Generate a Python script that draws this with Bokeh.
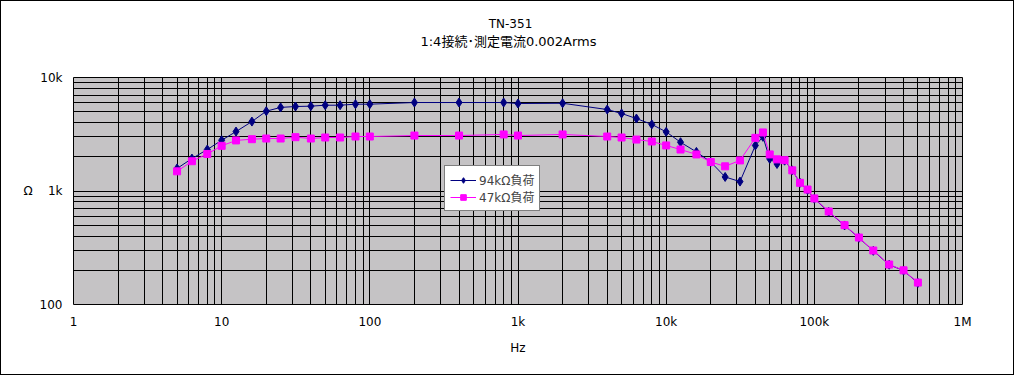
from bokeh.plotting import figure
from bokeh.models import Range1d, FixedTicker, Legend, LegendItem, Label
from bokeh.embed import file_html
from bokeh.resources import INLINE

# ---- data ----
freqs = [5, 6.3, 8, 10, 12.5, 16, 20, 25, 31.5, 40, 50, 63, 80, 100,
         200, 400, 800, 1000, 2000, 4000, 5000, 6300, 8000,
         10000, 12500, 16000, 20000, 25000, 31500, 40000, 45000, 50000,
         56000, 63000, 71000, 80000, 90000, 100000, 125000, 160000,
         200000, 250000, 320000, 400000, 500000]
ohm_94k = [1580, 1930, 2320, 2800, 3340, 4090, 5050, 5450, 5550, 5590, 5700, 5700, 5820, 5820,
           6020, 6020, 6020, 5900, 5930, 5220, 4820, 4350, 3860,
           3320, 2690, 2210, 1800, 1330, 1210, 2520, 3000, 1920,
           1730, 1850, 1520, 1180, 1020, 855, 655, 497,
           387, 297, 224, 199, 155]
ohm_47k = [1490, 1830, 2120, 2500, 2790, 2860, 2900, 2900, 2980, 2900, 2960, 2960, 3020, 3020,
           3080, 3080, 3150, 3080, 3150, 3020, 2960, 2840, 2730,
           2520, 2320, 2100, 1800, 1650, 1860, 2940, 3280, 2100,
           1900, 1870, 1520, 1180, 1030, 860, 660, 500,
           389, 299, 225, 200, 156]
series_names = ["94kΩ負荷", "47kΩ負荷"]
x_ticks = [1, 10, 100, 1000, 10000, 100000, 1000000]
x_tick_labels = ["1", "10", "100", "1k", "10k", "100k", "1M"]
y_ticks = [100, 1000, 10000]
y_tick_labels = ["100", "1k", "10k"]
title_lines = ["TN-351", "1:4接続･測定電流0.002Arms"]
x_label = "Hz"
y_label = "Ω"

FONT = "DejaVu Sans, Noto Sans CJK JP"
BG = "#c5c3c5"

p = figure(width=1014, height=375, x_axis_type="log", y_axis_type="log",
           x_range=Range1d(1, 1e6), y_range=Range1d(100, 1e4),
           output_backend="svg", toolbar_location=None, title=None,
           min_border_left=72, min_border_right=53, min_border_top=76, min_border_bottom=72,
           background_fill_color=BG, border_fill_color="white",
           outline_line_color="black", outline_line_width=1)
p.styles = {"border": "1px solid black"}

x_minor = [m * 10 ** d for d in range(0, 6) for m in range(2, 10)]
y_minor = [m * 10 ** d for d in range(2, 4) for m in range(2, 10)]
p.xaxis.ticker = FixedTicker(ticks=x_ticks, minor_ticks=x_minor)
p.yaxis.ticker = FixedTicker(ticks=y_ticks, minor_ticks=y_minor)
p.xaxis.major_label_overrides = {float(t): l for t, l in zip(x_ticks, x_tick_labels)}
p.yaxis.major_label_overrides = {float(t): l for t, l in zip(y_ticks, y_tick_labels)}

for ax in (p.xaxis, p.yaxis):
    ax.axis_line_color = None
    ax.major_tick_line_color = None
    ax.minor_tick_line_color = None
    ax.major_tick_out = 0
    ax.major_tick_in = 0
    ax.minor_tick_out = 0
    ax.minor_tick_in = 0
    ax.major_label_text_font = FONT
    ax.major_label_text_font_size = "12px"
    ax.major_label_text_color = "black"
    ax.axis_label_text_font = FONT
    ax.axis_label_text_font_size = "12px"
    ax.axis_label_text_font_style = "normal"
    ax.axis_label_text_color = "black"

p.xaxis.major_label_standoff = 10
p.yaxis.major_label_standoff = 11
p.xaxis.axis_label = x_label
p.xaxis.axis_label_standoff = 9
p.yaxis.axis_label = y_label
p.yaxis.axis_label_orientation = "horizontal"
p.yaxis.axis_label_standoff = 4

for g in (p.xgrid, p.ygrid):
    g.grid_line_color = "black"
    g.grid_line_alpha = 1
    g.grid_line_width = 1
    g.minor_grid_line_color = "black"
    g.minor_grid_line_alpha = 1
    g.minor_grid_line_width = 1

l1 = p.line(freqs, ohm_94k, line_color="#000080", line_width=1)
s1 = p.scatter(freqs, ohm_94k, marker="diamond", size=9, fill_color="#000080", line_color="#000080")
l2 = p.line(freqs, ohm_47k, line_color="#ff00ff", line_width=1)
s2 = p.scatter(freqs, ohm_47k, marker="square", size=7, fill_color="#ff00ff", line_color="#ff00ff")

legend = Legend(items=[LegendItem(label=series_names[0], renderers=[l1, s1]),
                       LegendItem(label=series_names[1], renderers=[l2, s2])],
                location=(371, 93), orientation="vertical",
                border_line_color="black", border_line_width=1,
                background_fill_color="white", background_fill_alpha=1,
                label_text_font=FONT, label_text_font_size="12px",
                padding=5, spacing=0, margin=0,
                glyph_width=26, glyph_height=14, label_height=14, label_standoff=3)
p.add_layout(legend)

# first label's panel sits next to the frame, second one is stacked above it
p.add_layout(Label(x=437, y=53.5, x_units="screen", y_units="screen", text=title_lines[0],
                   text_align="center", text_baseline="middle",
                   text_font=FONT, text_font_size="12px", text_color="black"), "above")
p.add_layout(Label(x=435, y=22, x_units="screen", y_units="screen", text=title_lines[1],
                   text_align="center", text_baseline="middle",
                   text_font=FONT, text_font_size="13px", text_color="black"), "above")

open("out.html", "w").write(file_html(p, INLINE))
